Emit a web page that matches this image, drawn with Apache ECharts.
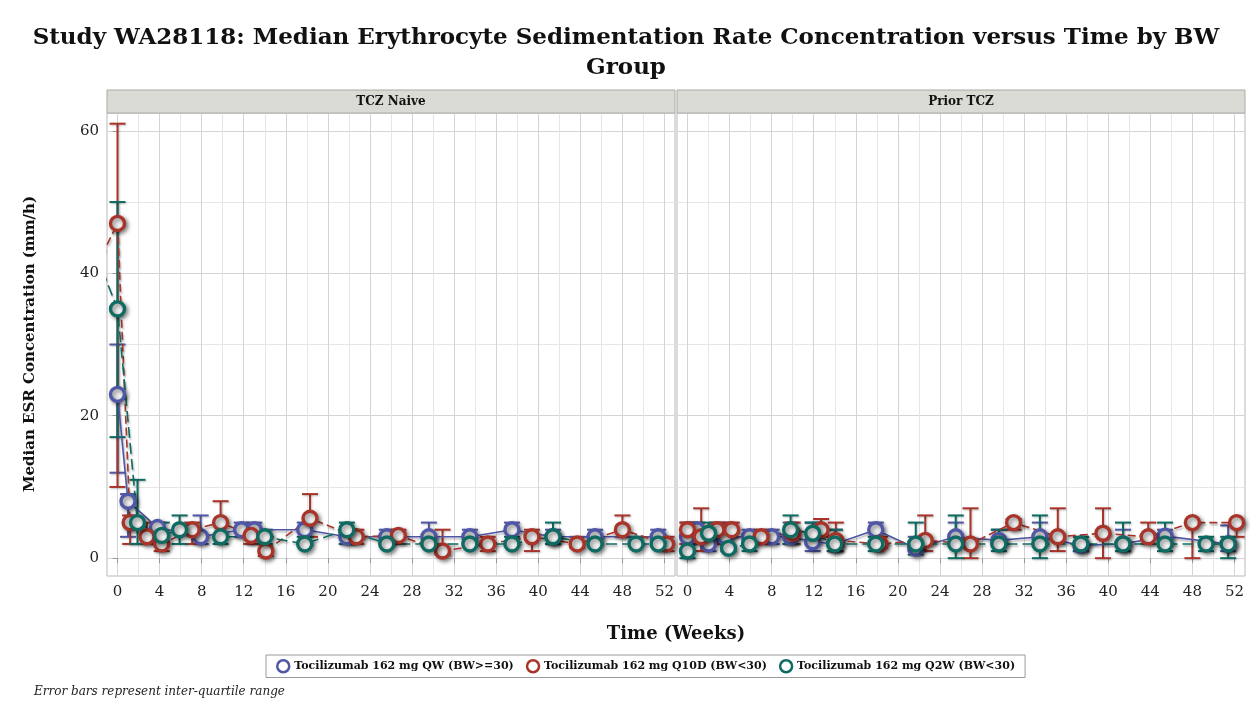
<!DOCTYPE html>
<html>
<head>
<meta charset="utf-8">
<script src="https://cdn.jsdelivr.net/npm/echarts@6/dist/echarts.min.js"></script>
<style>
html,body{margin:0;padding:0;background:#fff;}
#chart{width:1252px;height:702px;}
</style>
</head>
<body>
<div id="chart"></div>
<script>
// ---------- DATA ----------
const titleLine1 = 'Study WA28118: Median Erythrocyte Sedimentation Rate Concentration versus Time by BW';
const titleLine2 = 'Group';
const panelNames = ['TCZ Naive', 'Prior TCZ'];
const seriesNames = ['Tocilizumab 162 mg QW (BW>=30)', 'Tocilizumab 162 mg Q10D (BW<30)', 'Tocilizumab 162 mg Q2W (BW<30)'];
const xTickLabels = [0, 4, 8, 12, 16, 20, 24, 28, 32, 36, 40, 44, 48, 52];
const yTickLabels = [0, 20, 40, 60];
const xAxisTitle = 'Time (Weeks)';
const yAxisTitle = 'Median ESR Concentration (mm/h)';
const footnote = 'Error bars represent inter-quartile range';

// TCZ Naive panel
const naiveQW_week   = [0, 1, 3.8, 7.9, 11.8, 13, 17.8, 21.8, 25.6, 29.6, 33.5, 37.5, 41.4, 45.4, 51.4];
const naiveQW_median = [23, 8, 4.3, 3, 4, 4, 4, 3, 3, 3, 3, 4, 3, 3, 3];
const naiveQW_q1     = [12, 3, 2, 2, 3, 2, 2, 2, 2, 2, 2, 2, 2, 2, 2];
const naiveQW_q3     = [30, 9, 5, 6, 5, 5, 5, 4, 4, 5, 4, 5, 4, 4, 4];

const naiveQ10D_week   = [-2, 0, 1.2, 2.8, 4.2, 7.1, 9.8, 12.7, 14.1, 18.3, 22.7, 26.7, 30.9, 35.2, 39.4, 43.7, 48, 52.2];
const naiveQ10D_median = [41, 47, 5, 3, 2, 4, 5, 3.2, 1, 5.6, 3, 3.2, 1, 2, 3, 2, 4, 2];
const naiveQ10D_q1     = [null, 10, 2, 2, 1, 2, 3, 2, 0.3, 3, 2, 2, 0.5, 1, 1, 1.5, 3, 1];
const naiveQ10D_q3     = [null, 61, 6, 5, 3, 5, 8, 4, 3, 9, 4, 4, 4, 3, 4, 3, 6, 3];

const naiveQ2W_week   = [-2, 0, 1.9, 4.2, 5.9, 9.8, 14, 17.8, 21.8, 25.6, 29.6, 33.5, 37.5, 41.4, 45.4, 49.3, 51.4];
const naiveQ2W_median = [42.5, 35, 5, 3.2, 4, 3, 3, 2, 4, 2, 2, 2, 2, 3, 2, 2, 2];
const naiveQ2W_q1     = [null, 17, 2, 2, 2, 2, 2, 2, 2, 2, 2, 2, 2, 2, 2, 2, 2];
const naiveQ2W_q3     = [null, 50, 11, 5, 6, 5, 4, 3, 5, 3, 3, 3, 3, 5, 3, 3, 3];

// Prior TCZ panel
const priorQW_week   = [0, 0.9, 2, 3.6, 5.9, 8, 9.8, 11.9, 14, 17.9, 21.7, 25.5, 29.6, 33.5, 37.4, 41.4, 45.4, 51.4];
const priorQW_median = [3, 4, 2, 3, 3, 3, 3, 2.3, 2, 4, 1.4, 3, 2.5, 3, 1.8, 2, 3.1, 2];
const priorQW_q1     = [2, 2, 1, 2, 2, 2, 2, 1, 1, 2, 1, 2, 2, 2, 1, 1, 2, 1];
const priorQW_q3     = [5, 5, 4, 5, 4, 4, 5, 5, 4, 5, 3, 5, 4, 5, 3, 4, 4, 4.6];

const priorQ10D_week   = [0, 1.3, 2.8, 4.2, 7, 10, 12.7, 14.1, 18.3, 22.6, 26.9, 31, 35.2, 39.5, 43.8, 48, 52.2];
const priorQ10D_median = [4, 3, 4, 4, 3, 3.5, 4, 2.5, 2, 2.5, 2, 5, 3, 3.5, 3, 5, 5];
const priorQ10D_q1     = [2, 1, 2, 3, 2, 2, 3, 1, 1.5, 1, 0, 4, 1, 0, 2, 0, 3];
const priorQ10D_q3     = [5, 7, 5, 5, 4, 5, 5.5, 5, 3, 6, 7, 5.5, 7, 7, 5, 5, 5];

const priorQ2W_week   = [0, 2, 3.9, 5.9, 9.8, 11.9, 14, 17.9, 21.7, 25.5, 29.6, 33.5, 37.4, 41.4, 45.4, 49.3, 51.4];
const priorQ2W_median = [1, 3.5, 1.4, 2, 4, 3.5, 2, 2, 2, 2, 2, 2, 2, 2, 2, 2, 2];
const priorQ2W_q1     = [0, 2, 1, 1, 2, 2, 1, 1, 0.5, 0, 1, 0, 1, 1, 1, 1, 0];
const priorQ2W_q3     = [3, 5, 3, 3, 6, 5, 4, 3, 5, 6, 4, 6, 3, 5, 5, 3, 3];

// ---------- STYLE ----------
const colors = ['#4f57a6', '#a8342a', '#0f6b62'];
const dashes = ['solid', [8, 4], [11, 5]];
const FONT = 'DejaVu Serif';

const panels = [
  [[naiveQW_week, naiveQW_median, naiveQW_q1, naiveQW_q3],
   [naiveQ10D_week, naiveQ10D_median, naiveQ10D_q1, naiveQ10D_q3],
   [naiveQ2W_week, naiveQ2W_median, naiveQ2W_q1, naiveQ2W_q3]],
  [[priorQW_week, priorQW_median, priorQW_q1, priorQW_q3],
   [priorQ10D_week, priorQ10D_median, priorQ10D_q1, priorQ10D_q3],
   [priorQ2W_week, priorQ2W_median, priorQ2W_q1, priorQ2W_q3]]
];

const gridLefts = [107, 677];
const gridTop = 113, gridH = 463, gridW = 568;
const XMIN = -1, XMAX = 53, YMIN = -2.5, YMAX = 62.5;
const T = 'rgba(0,0,0,0)';
const vMajor = '#d4d4d4', vMinor = '#e6e6e6';

const grids = [], xAxes = [], yAxes = [], series = [];

function errRender(params, api) {
  const x = api.value(0), lo = api.value(1), hi = api.value(2);
  const p1 = api.coord([x, lo]), p2 = api.coord([x, hi]);
  const w = 8;
  const st = {stroke: api.visual('color'), lineWidth: 2, shadowBlur: 2, shadowColor: 'rgba(0,0,0,0.25)', shadowOffsetX: 1, shadowOffsetY: 1};
  return {type: 'group', children: [
    {type: 'line', shape: {x1: p1[0], y1: p1[1], x2: p2[0], y2: p2[1]}, style: st},
    {type: 'line', shape: {x1: p1[0] - w, y1: p1[1], x2: p1[0] + w, y2: p1[1]}, style: st},
    {type: 'line', shape: {x1: p2[0] - w, y1: p2[1], x2: p2[0] + w, y2: p2[1]}, style: st}
  ]};
}

panels.forEach((panel, pi) => {
  grids.push({left: gridLefts[pi], top: gridTop, width: gridW, height: gridH,
    show: true, borderColor: '#b8b8b8', borderWidth: 1, backgroundColor: '#fff'});
  xAxes.push({type: 'value', gridIndex: pi, min: XMIN, max: XMAX, interval: 1, position: 'bottom',
    axisLine: {show: false},
    axisTick: {show: true, length: 5, lineStyle: {color: '#999'}, customValues: xTickLabels},
    axisLabel: {customValues: xTickLabels, margin: 9, color: '#222', fontFamily: FONT, fontSize: 15,
      formatter: v => (xTickLabels.indexOf(v) >= 0 ? String(v) : '')},
    splitLine: {show: false}});
  yAxes.push({type: 'value', gridIndex: pi, min: YMIN, max: YMAX, interval: 2.5, position: 'left',
    axisLine: {show: false},
    axisTick: {show: pi === 0, length: 5, lineStyle: {color: '#999'}, customValues: yTickLabels},
    axisLabel: {show: pi === 0, customValues: yTickLabels, margin: 8, color: '#222', fontFamily: FONT, fontSize: 15,
      formatter: v => (yTickLabels.indexOf(v) >= 0 ? String(v) : '')},
    splitLine: {show: false}});
});
panels.forEach((panel, pi) => {
  xAxes.push({type: 'value', gridIndex: pi, min: XMIN, max: XMAX, interval: 1, position: 'bottom',
    axisLine: {show: false}, axisTick: {show: false}, axisLabel: {show: false},
    splitLine: {show: true, lineStyle: {width: 1, color: [T, vMajor, T, vMinor]}}});
  yAxes.push({type: 'value', gridIndex: pi, min: YMIN, max: YMAX, interval: 2.5, position: 'left',
    axisLine: {show: false}, axisTick: {show: false}, axisLabel: {show: false},
    splitLine: {show: true, lineStyle: {width: 1, color: [T, vMajor, T, T, T, vMinor, T, T]}}});
});

panels.forEach((panel, pi) => {
  panel.forEach((s, si) => {
    const [wk, med, q1, q3] = s;
    const eb = [];
    wk.forEach((w, i) => { if (q1[i] != null) eb.push([w, q1[i], q3[i]]); });
    series.push({type: 'custom', name: 'eb' + pi + si, xAxisIndex: pi, yAxisIndex: pi,
      renderItem: errRender, data: eb, itemStyle: {color: colors[si]}, z: 3, silent: true,
      encode: {x: 0, y: [1, 2]}});
  });
  panel.forEach((s, si) => {
    const [wk, med] = s;
    series.push({type: 'line', name: seriesNames[si], xAxisIndex: pi, yAxisIndex: pi,
      data: wk.map((w, i) => [w, med[i]]), clip: true, z: 5,
      symbol: 'circle', symbolSize: 14, showSymbol: true,
      lineStyle: {color: colors[si], width: 1.6, type: dashes[si],
        shadowBlur: 2, shadowColor: 'rgba(0,0,0,0.3)', shadowOffsetX: 1, shadowOffsetY: 2},
      itemStyle: {color: '#f2f2f2', borderColor: colors[si], borderWidth: 3.4,
        shadowBlur: 4, shadowColor: 'rgba(0,0,0,0.45)', shadowOffsetX: 2, shadowOffsetY: 2},
      emphasis: {disabled: true}, animation: false});
  });
});

const graphics = [
  {type: 'text', left: 'center', top: 27, style: {text: titleLine1, font: 'bold 23px "DejaVu Serif"', fill: '#111'}},
  {type: 'text', left: 'center', top: 57, style: {text: titleLine2, font: 'bold 23px "DejaVu Serif"', fill: '#111'}},
  {type: 'text', x: 30, y: 344, rotation: Math.PI / 2,
    style: {text: yAxisTitle, font: 'bold 15px "DejaVu Serif"', fill: '#111', align: 'center', verticalAlign: 'middle'}},
  {type: 'text', x: 676, y: 634,
    style: {text: xAxisTitle, font: 'bold 18px "DejaVu Serif"', fill: '#111', align: 'center', verticalAlign: 'middle'}},
  {type: 'text', x: 34, y: 692,
    style: {text: footnote, font: 'italic 12px "DejaVu Serif"', fill: '#222', align: 'left', verticalAlign: 'middle'}}
];
panelNames.forEach((p, pi) => {
  graphics.push({type: 'rect', shape: {x: gridLefts[pi], y: 90, width: gridW, height: 23},
    style: {fill: '#d9dbd4', stroke: '#a9aaa5', lineWidth: 1}, z: 1});
  graphics.push({type: 'text', x: gridLefts[pi] + gridW / 2, y: 102, z: 2,
    style: {text: p, font: 'bold 12px "DejaVu Serif"', fill: '#111', align: 'center', verticalAlign: 'middle'}});
});

const chart = echarts.init(document.getElementById('chart'), null, {renderer: 'canvas'});
chart.setOption({
  animation: false,
  backgroundColor: '#fff',
  grid: grids,
  xAxis: xAxes,
  yAxis: yAxes,
  legend: {
    left: 266, top: 655, orient: 'horizontal', itemGap: 12, itemWidth: 12, itemHeight: 12,
    padding: [4, 10, 4, 10], borderColor: '#9a9a9a', borderWidth: 1, backgroundColor: '#fff',
    textStyle: {fontFamily: FONT, fontWeight: 'bold', fontSize: 11, color: '#111'},
    data: seriesNames.map((n, i) => ({name: n, icon: 'circle',
      itemStyle: {color: '#fff', borderColor: colors[i], borderWidth: 2.5}}))
  },
  series: series,
  graphic: graphics
});
</script>
</body>
</html>
